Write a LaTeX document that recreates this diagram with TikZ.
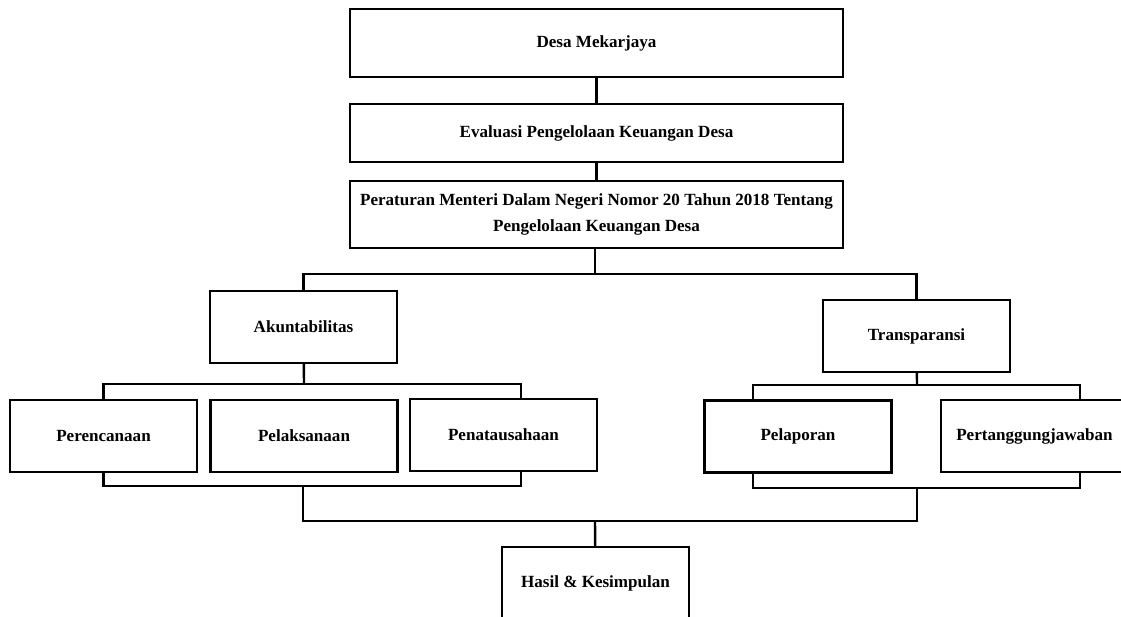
\documentclass[tikz,border=0pt]{standalone}
\usepackage{fontspec}
\setmainfont{Liberation Serif}
\begin{document}
\begin{tikzpicture}[x=0.75pt, y=-0.75pt, line width=1.8pt,
  kotak/.style={rectangle, draw, minimum width=140.25pt, minimum height=54pt, inner sep=2pt, align=center, font=\bfseries\fontsize{12.8}{19}\selectfont},
  lebar/.style={minimum width=369.75pt}]
  \clip (0,0) rectangle (1121,617);
  \node (desa) [kotak, lebar, minimum height=51pt] at (596.5,43) {Desa Mekarjaya};
  \node (evaluasi) [kotak, lebar, minimum height=43.5pt] at (596.5,133) {Evaluasi Pengelolaan Keuangan Desa};
  \node (peraturan) [kotak, lebar, minimum height=50.25pt] at (596.5,214.5) {Peraturan Menteri Dalam Negeri Nomor 20 Tahun 2018 Tentang\\Pengelolaan Keuangan Desa};
  \node (akun) [kotak] at (303.5,327) {Akuntabilitas};
  \node (trans) [kotak] at (916.5,336) {Transparansi};
  \node (perenc) [kotak] at (103.5,436) {Perencanaan};
  \node (pelaks) [kotak] at (304,436) {Pelaksanaan};
  \node (penata) [kotak] at (503.5,435) {Penatausahaan};
  \node (pelap) [kotak] at (798,436.5) {Pelaporan};
  \node (pertang) [kotak] at (1034.5,436) {Pertanggungjawaban};
  \node (hasil) [kotak] at (595.5,583) {Hasil \& Kesimpulan};

  \coordinate (cabang) at (595,274);
  \coordinate (akunbawah) at (304,384);
  \coordinate (penataatas) at (521,399);
  \coordinate (penatabawah) at (521,471);
  \coordinate (kiribawah) at (303,486);
  \coordinate (transbawah) at (917,385);
  \coordinate (pelapatas) at (753,400);
  \coordinate (pelapbawah) at (753,473);
  \coordinate (pertangatas) at (1080,400);
  \coordinate (pertangbawah) at (1080,472);
  \coordinate (kananbawah) at (917,488);
  \coordinate (gabung) at (595,521);

  \draw (desa) -- (evaluasi);
  \draw (evaluasi) -- (peraturan);
  \draw (peraturan.south -| cabang) -- (cabang);
  \draw (akun.north) |- (cabang) -| (trans.north);
  \draw (akun) -- (akunbawah);
  \draw (perenc.north) |- (akunbawah) -| (penataatas);
  \draw (perenc.south) |- (kiribawah) -| (penatabawah);
  \draw (trans) -- (transbawah);
  \draw (pelapatas) |- (transbawah) -| (pertangatas);
  \draw (pelapbawah) |- (kananbawah) -| (pertangbawah);
  \draw (kiribawah) |- (gabung) -| (kananbawah);
  \draw (gabung) -- (hasil);
\end{tikzpicture}
\end{document}
